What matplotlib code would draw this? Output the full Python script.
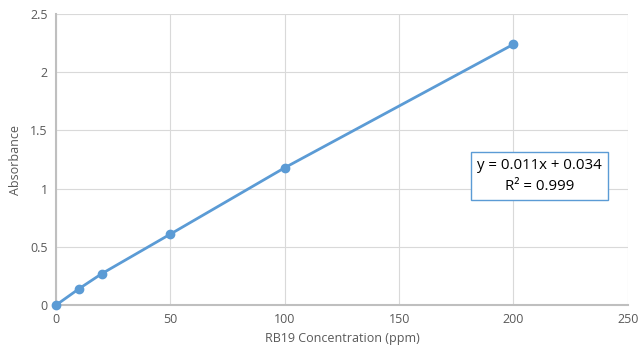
import matplotlib
matplotlib.use("Agg")
import matplotlib.pyplot as plt

conc = [0, 10, 20, 50, 100, 200]
absorb = [0.0, 0.14, 0.27, 0.61, 1.18, 2.24]
xticks = [0, 50, 100, 150, 200, 250]
yticks = [0, 0.5, 1, 1.5, 2, 2.5]
ytick_labels = ["0", "0.5", "1", "1.5", "2", "2.5"]

plt.rcParams['font.family'] = ['Open Sans', 'DejaVu Sans']
fig = plt.figure(figsize=(6.4, 3.59), dpi=100)
ax = fig.add_axes([0.0875, 0.150, 0.8935, 0.811])
blue = "#5b9bd5"
ax.plot(conc, absorb, color=blue, lw=2, marker='o', ms=6, zorder=3, clip_on=False)
ax.set_xlim(0, 250)
ax.set_ylim(0, 2.5)
ax.set_xticks(xticks)
ax.set_yticks(yticks)
ax.set_yticklabels(ytick_labels)
ax.grid(True, color="#d9d9d9", lw=0.8)
ax.set_axisbelow(True)
for s in ['top', 'right']:
    ax.spines[s].set_visible(False)
for s in ['left', 'bottom']:
    ax.spines[s].set_color("#bfbfbf")
    ax.spines[s].set_linewidth(1.5)
ax.tick_params(length=0, labelsize=9, labelcolor="#595959", pad=6)
ax.set_xlabel("RB19 Concentration (ppm)", fontsize=9, color="#595959", labelpad=4)
ax.set_ylabel("Absorbance", fontsize=9, color="#595959", labelpad=6)
ax.text(211.5, 1.11, "y = 0.011x + 0.034\nR² = 0.999", ha='center', va='center',
        fontsize=10.8, color='black', linespacing=1.55,
        bbox=dict(boxstyle='square,pad=0.4', fc='white', ec=blue, lw=1),
        zorder=5)
fig.savefig("out.png", dpi=100)
